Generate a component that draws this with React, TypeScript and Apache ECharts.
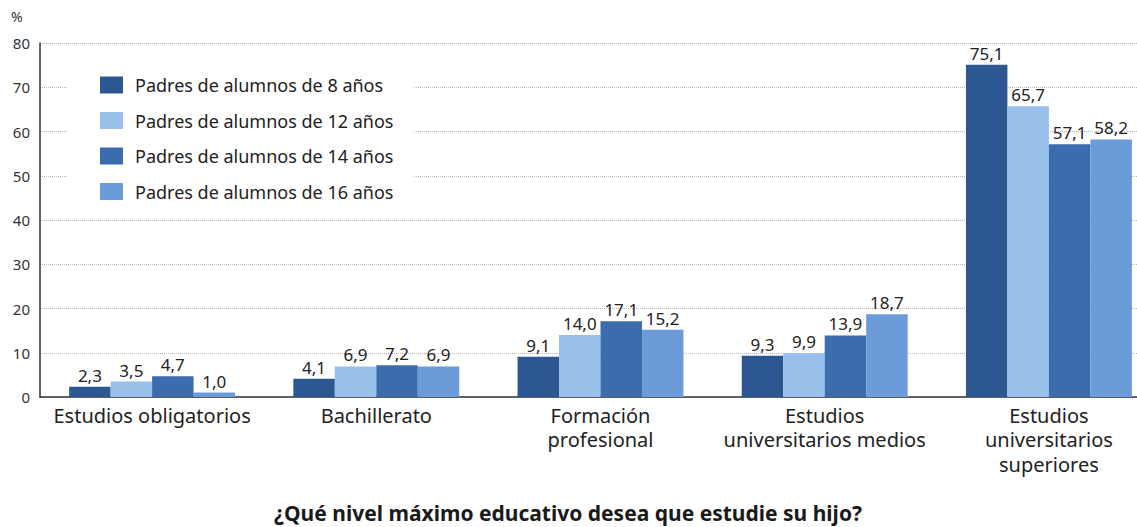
import React, { useEffect, useRef } from "react";
import * as echarts from "echarts";

const categories = [
  "Estudios obligatorios",
  "Bachillerato",
  "Formación\nprofesional",
  "Estudios\nuniversitarios medios",
  "Estudios\nuniversitarios\nsuperiores",
];
const seriesNames = [
  "Padres de alumnos de 8 años",
  "Padres de alumnos de 12 años",
  "Padres de alumnos de 14 años",
  "Padres de alumnos de 16 años",
];
const age8 = [2.3, 4.1, 9.1, 9.3, 75.1];
const age12 = [3.5, 6.9, 14.0, 9.9, 65.7];
const age14 = [4.7, 7.2, 17.1, 13.9, 57.1];
const age16 = [1.0, 6.9, 15.2, 18.7, 58.2];
const seriesData = [age8, age12, age14, age16];
const colors = ["#2c5793", "#98c0ea", "#3b6cad", "#6b9bd8"];
const title = "¿Qué nivel máximo educativo desea que estudie su hijo?";

const FONT = "'Noto Sans', sans-serif";

export default function App() {
  const ref = useRef<HTMLDivElement>(null);
  useEffect(() => {
    if (!ref.current) return;
    const chart = echarts.init(ref.current, null, { renderer: "svg" });
    chart.setOption({
      animation: false,
      backgroundColor: "#ffffff",
      textStyle: { fontFamily: FONT },
      legend: {
        orient: "vertical",
        left: 68,
        top: 60,
        padding: [16, 20, 14, 32],
        backgroundColor: "#ffffff",
        itemWidth: 23,
        itemHeight: 17,
        itemGap: 17.5,
        icon: "rect",
        data: seriesNames,
        textStyle: { fontFamily: FONT, fontSize: 18, color: "#222", lineHeight: 18, padding: [0, 0, 0, 7] },
      },
      grid: { left: 40, top: 43, width: 1121, height: 354, containLabel: false },
      xAxis: {
        type: "category",
        data: categories,
        axisLine: { show: true, lineStyle: { color: "#333", width: 1.5 } },
        axisTick: { show: false },
        axisLabel: {
          interval: 0,
          margin: 6,
          fontFamily: FONT,
          fontSize: 20,
          lineHeight: 24.5,
          color: "#222",
        },
      },
      yAxis: {
        type: "value",
        min: 0,
        max: 80,
        interval: 10,
        axisLine: { show: true, lineStyle: { color: "#333", width: 1.5 } },
        axisTick: { show: false },
        axisLabel: { fontFamily: FONT, fontSize: 15, color: "#333", margin: 10 },
        splitLine: { show: true, lineStyle: { color: "#b8b8b8", type: "dotted", width: 1 } },
      },
      graphic: [
        {
          type: "text",
          left: 11,
          top: 9,
          style: { text: "%", fontFamily: FONT, fontSize: 14, fill: "#333" },
        },
        {
          type: "text",
          x: 568,
          y: 513,
          style: {
            text: title,
            fontFamily: FONT,
            fontSize: 21,
            lineHeight: 21,
            fontWeight: "bold",
            fill: "#1a1a1a",
            align: "center",
            verticalAlign: "middle",
          },
        },
      ],
      series: seriesNames.map((name, i) => ({
        name,
        type: "bar",
        data: seriesData[i],
        barGap: "0%",
        barCategoryGap: "26%",
        itemStyle: { color: colors[i] },
        label: {
          show: true,
          position: "top",
          distance: 3,
          fontFamily: FONT,
          fontSize: 17,
          color: "#222",
          formatter: (p: any) => Number(p.value).toFixed(1).replace(".", ","),
        },
      })),
    });
    return () => chart.dispose();
  }, []);
  return (
    <div style={{ position: "absolute", left: 0, top: 0, width: 1137, height: 527, overflow: "hidden" }}>
      <div ref={ref} style={{ width: 1180, height: 527 }} />
    </div>
  );
}
